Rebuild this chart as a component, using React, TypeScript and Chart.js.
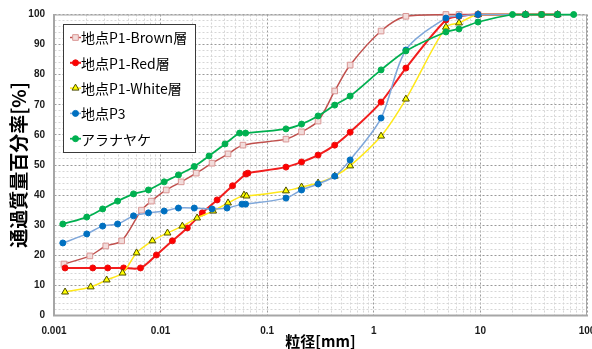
import React, { useEffect, useRef } from 'react';
import { Chart, registerables } from 'chart.js';
Chart.register(...registerables);

// ---- data (particle size [mm], percent passing [%]) ----
const seriesNames = ['地点P1-Brown層', '地点P1-Red層', '地点P1-White層', '地点P3', 'アラナヤケ'];

const brownSize = [0.00124, 0.00217, 0.00306, 0.00431, 0.00662, 0.0082, 0.0113, 0.0156, 0.0216, 0.0304, 0.0429, 0.0592, 0.15, 0.21, 0.30, 0.43, 0.60, 1.17, 2.0, 4.75, 6.3, 9.5, 26.5, 37.5, 53];
const brownPass = [17.1, 19.8, 23.1, 24.8, 35.0, 38.0, 41.7, 44.4, 47.3, 50.6, 53.7, 56.6, 58.6, 61.0, 64.6, 74.6, 83.2, 94.5, 99.4, 100, 100, 100, 100, 100, 100];

const redSize = [0.00127, 0.00231, 0.00319, 0.0045, 0.00648, 0.00914, 0.0129, 0.0178, 0.0246, 0.0339, 0.0473, 0.0631, 0.0659, 0.15, 0.21, 0.30, 0.43, 0.60, 1.17, 2.0, 4.75, 6.3, 9.5, 26.5, 37.5, 53];
const redPass = [15.8, 15.8, 15.8, 15.8, 15.8, 20.1, 24.8, 29.1, 34.1, 38.4, 43.1, 47.0, 47.3, 49.3, 51.0, 53.3, 56.6, 60.9, 70.9, 82.2, 98.2, 99.4, 100, 100, 100, 100];

const whiteSize = [0.00127, 0.00221, 0.00312, 0.0044, 0.00595, 0.00838, 0.0116, 0.016, 0.022, 0.0311, 0.0429, 0.0606, 0.064, 0.15, 0.21, 0.30, 0.43, 0.60, 1.17, 2.0, 4.75, 6.3, 9.5, 26.5, 53];
const whitePass = [7.8, 9.5, 11.8, 14.1, 20.8, 24.8, 27.4, 29.7, 32.4, 34.7, 37.4, 40.0, 39.7, 41.4, 42.7, 44.0, 46.3, 49.7, 59.6, 71.9, 95.8, 97.2, 100, 100, 100];

const p3Size = [0.00121, 0.00203, 0.00286, 0.00395, 0.00557, 0.00769, 0.0108, 0.0147, 0.0207, 0.0304, 0.042, 0.058, 0.0627, 0.15, 0.21, 0.30, 0.43, 0.60, 1.17, 2.0, 4.75, 6.3, 9.5, 26.5, 53];
const p3Pass = [24.1, 27.1, 29.7, 30.4, 33.1, 34.1, 34.7, 35.7, 35.7, 35.4, 35.7, 37.0, 37.0, 39.0, 41.7, 43.7, 46.3, 51.7, 65.6, 88.2, 98.8, 99.5, 100, 100, 100];

const araSize = [0.00121, 0.00203, 0.00286, 0.00395, 0.00557, 0.00769, 0.0108, 0.0147, 0.0207, 0.0285, 0.0402, 0.0551, 0.0627, 0.15, 0.21, 0.30, 0.43, 0.60, 1.17, 2.0, 4.75, 6.3, 9.5, 20, 26.5, 37.5, 53, 75];
const araPass = [30.4, 32.7, 35.4, 38.0, 40.4, 41.7, 44.4, 46.7, 49.5, 53.0, 57.0, 60.6, 60.6, 62.0, 63.6, 66.3, 69.9, 72.9, 81.6, 87.9, 94.2, 95.2, 97.5, 100, 100, 100, 100, 100];

const xDecades = [0.001, 0.01, 0.1, 1, 10, 100];
const xDecadeLabels = ['0.001', '0.01', '0.1', '1', '10', '100'];
const yMin = 0;
const yMax = 100;

const xTitle = '粒径[mm]';
const yTitle = '通過質量百分率[%]';

// ---- tick construction (axis decoration only) ----
const xTickValues: number[] = [];
const xTickLabels: string[] = [];
const xTickMajor: boolean[] = [];
xDecades.forEach((d, i) => {
  if (i === xDecades.length - 1) {
    xTickValues.push(d); xTickLabels.push(xDecadeLabels[i]); xTickMajor.push(true);
    return;
  }
  for (let s = 1; s <= 9; s++) {
    xTickValues.push(d * s);
    xTickLabels.push(s === 1 ? xDecadeLabels[i] : '');
    xTickMajor.push(s === 1);
  }
});

const pts = (xs: number[], ys: number[]) => xs.map((x, i) => ({ x, y: ys[i] }));

const boxLegend = {
  id: 'boxLegend',
  beforeDatasetsDraw(chart: any) {
    const { ctx, chartArea: a } = chart;
    ctx.save();
    ctx.strokeStyle = '#A6A6A6';
    ctx.lineWidth = 1;
    ctx.strokeRect(a.left + 0.5, a.top + 0.5, a.right - a.left - 1, a.bottom - a.top - 1);
    ctx.restore();
  },
  afterDraw(chart: any) {
    const ctx = chart.ctx as CanvasRenderingContext2D;
    ctx.save();
    const x0 = 63.5, y0 = 24.5, w = 132, h = 128;
    ctx.fillStyle = '#ffffff';
    ctx.fillRect(x0, y0, w, h);
    ctx.strokeStyle = '#3a3a3a';
    ctx.lineWidth = 1;
    ctx.strokeRect(x0, y0, w, h);
    chart.data.datasets.forEach((ds: any, i: number) => {
      const cy = 37.5 + i * 25.3;
      ctx.strokeStyle = ds.borderColor;
      ctx.lineWidth = ds.borderWidth;
      ctx.beginPath();
      ctx.moveTo(70, cy);
      ctx.lineTo(81, cy);
      ctx.stroke();
      const cx = 75.5;
      const r = ds.pointRadius;
      ctx.fillStyle = ds.pointBackgroundColor;
      ctx.strokeStyle = ds.pointBorderColor;
      ctx.lineWidth = ds.pointBorderWidth;
      ctx.beginPath();
      if (ds.pointStyle === 'rect') {
        const s = r * Math.SQRT1_2;
        ctx.rect(cx - s, cy - s, 2 * s, 2 * s);
      } else if (ds.pointStyle === 'triangle') {
        let ang = 0;
        ctx.moveTo(cx + Math.sin(ang) * r, cy - Math.cos(ang) * r);
        ang += (2 * Math.PI) / 3;
        ctx.lineTo(cx + Math.sin(ang) * r, cy - Math.cos(ang) * r);
        ang += (2 * Math.PI) / 3;
        ctx.lineTo(cx + Math.sin(ang) * r, cy - Math.cos(ang) * r);
        ctx.closePath();
      } else {
        ctx.arc(cx, cy, r, 0, Math.PI * 2);
      }
      ctx.fill();
      ctx.stroke();
      ctx.fillStyle = '#000000';
      ctx.font = '14px "Noto Sans CJK JP"';
      ctx.textBaseline = 'middle';
      ctx.textAlign = 'left';
      ctx.fillText(ds.label, 81, cy + 0.5);
    });
    ctx.restore();
  },
};

const tickFont = { family: '"Liberation Sans", Arial, sans-serif', size: 10, weight: 'bold' as const };

export default function App() {
  const ref = useRef<HTMLCanvasElement>(null);
  useEffect(() => {
    if (!ref.current) return;
    const common = { tension: 0.3, clip: false as const, fill: false };
    const chart = new Chart(ref.current, {
      type: 'line',
      data: {
        datasets: [
          { ...common, label: seriesNames[0], data: pts(brownSize, brownPass), borderColor: '#C0504D', borderWidth: 1.5, pointStyle: 'rect', pointRadius: 4, pointBackgroundColor: '#F2DCDB', pointBorderColor: '#D99694', pointBorderWidth: 1, order: 5 },
          { ...common, label: seriesNames[1], data: pts(redSize, redPass), borderColor: '#F21D1D', borderWidth: 2, pointStyle: 'circle', pointRadius: 3, pointBackgroundColor: '#FF0000', pointBorderColor: '#E81010', pointBorderWidth: 1, order: 4 },
          { ...common, label: seriesNames[2], data: pts(whiteSize, whitePass), borderColor: '#FFE81A', borderWidth: 1.5, pointStyle: 'triangle', pointRadius: 4, pointBackgroundColor: '#FFFF00', pointBorderColor: '#4D4D00', pointBorderWidth: 1, order: 3 },
          { ...common, label: seriesNames[3], data: pts(p3Size, p3Pass), borderColor: '#7FA7DA', borderWidth: 1.5, pointStyle: 'circle', pointRadius: 3, pointBackgroundColor: '#0070C0', pointBorderColor: '#0070C0', pointBorderWidth: 1, order: 2 },
          { ...common, label: seriesNames[4], data: pts(araSize, araPass), borderColor: '#00B050', borderWidth: 1.75, pointStyle: 'circle', pointRadius: 3, pointBackgroundColor: '#00B050', pointBorderColor: '#00B050', pointBorderWidth: 1, order: 1 },
        ] as any,
      },
      options: {
        responsive: false,
        animation: false,
        devicePixelRatio: 1,
        layout: { padding: { left: 0, right: 2, top: 14.5, bottom: 0 } },
        plugins: { legend: { display: false }, tooltip: { enabled: false } },
        scales: {
          x: {
            type: 'logarithmic',
            min: xDecades[0],
            max: xDecades[xDecades.length - 1],
            afterBuildTicks: (scale: any) => {
              scale.ticks = xTickValues.map((v, i) => ({ value: v, major: xTickMajor[i] }));
            },
            afterFit: (scale: any) => {
              scale.height = 33.5;
              scale.paddingLeft = 0;
              scale.paddingRight = 0;
            },
            ticks: {
              autoSkip: false,
              maxRotation: 0,
              minRotation: 0,
              padding: 10,
              color: '#1a1a1a',
              font: tickFont,
              callback: (_v: any, i: number) => xTickLabels[i],
            },
            grid: {
              drawTicks: false,
              color: (c: any) => (xTickMajor[c.index] ? '#9A9A9A' : '#D6D6D6'),
              lineWidth: 1,
            },
            border: { display: true, color: '#A6A6A6', width: 1.5, dash: [2, 2] },
            title: {
              display: true,
              text: xTitle,
              color: '#000000',
              font: { family: '"Noto Sans CJK JP"', size: 15, weight: 'bold', lineHeight: 1 },
              padding: { top: 0, bottom: 0 },
            },
          },
          y: {
            type: 'linear',
            min: yMin,
            max: yMax,
            afterFit: (scale: any) => {
              scale.width = 54;
              scale.paddingTop = 0;
              scale.paddingBottom = 0;
            },
            ticks: {
              stepSize: 2,
              autoSkip: false,
              padding: 9,
              color: '#1a1a1a',
              font: tickFont,
              callback: (v: any) => (Number(v) % 10 === 0 ? String(v) : ''),
            },
            grid: {
              drawTicks: false,
              color: (c: any) => (c.tick && c.tick.value % 10 === 0 ? '#9A9A9A' : '#D6D6D6'),
              lineWidth: 1,
            },
            border: { display: true, color: '#A6A6A6', width: 1.5, dash: [2, 2] },
            title: {
              display: true,
              text: yTitle,
              color: '#000000',
              font: { family: '"Noto Sans CJK JP"', size: 19, weight: 'bold', lineHeight: 1.2 },
              padding: { top: 7, bottom: 0 },
            },
          },
        },
      } as any,
      plugins: [boxLegend],
    });
    return () => chart.destroy();
  }, []);
  return (
    <div style={{ position: 'fixed', left: 0, top: 0, width: 592, height: 349, background: '#ffffff', overflow: 'hidden' }}>
      <canvas ref={ref} width={592} height={349} style={{ display: 'block', width: 592, height: 349 }} />
    </div>
  );
}
